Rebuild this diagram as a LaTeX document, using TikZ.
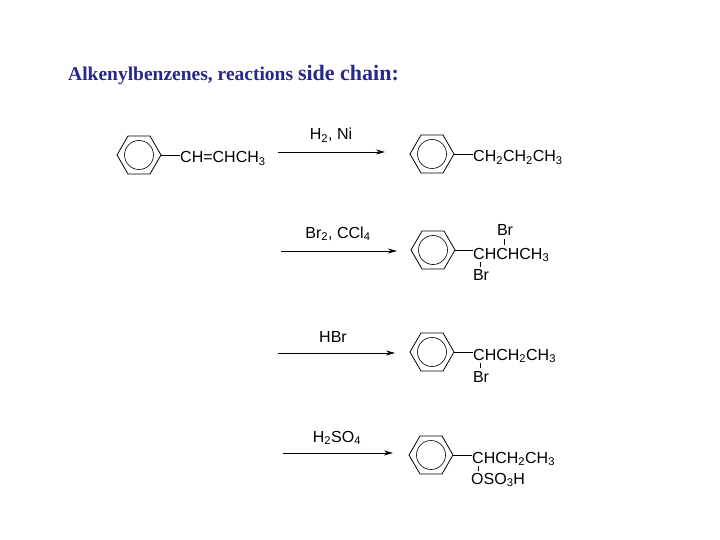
\documentclass[tikz,border=0pt]{standalone}
\usepackage{fontspec}
\setmainfont{Liberation Sans}
\newfontfamily\titlefont{Liberation Serif}
\usetikzlibrary{arrows.meta}
\definecolor{navy}{RGB}{40,40,140}
\begin{document}
\begin{tikzpicture}[x=1pt,y=-1pt,
  chem/.style={font=\fontsize{16}{17}\selectfont,inner sep=0pt,anchor=base west},
  lbl/.style={font=\fontsize{16}{17}\selectfont,inner sep=0pt,anchor=base},
  rxn/.style={-{Stealth[length=9pt,width=5pt]},line width=0.8pt},
  bond/.style={line width=0.7pt}]
\useasboundingbox (0,0) rectangle (720,540);
\node[anchor=base west,inner sep=0pt,text=navy,font=\titlefont\bfseries\fontsize{19.5}{21}\selectfont] (title) at (68,81) {Alkenylbenzenes, reactions {\fontsize{22}{23}\selectfont side chain:}};
\newcommand{\benz}[3]{%
  \draw[line width=0.8pt] (#1+22,#2) -- (#1+11,#2-19) -- (#1-11,#2-19) -- (#1-22,#2) -- (#1-11,#2+19) -- (#1+11,#2+19) -- cycle;
  \draw[line width=0.6pt] (#1,#2) circle (14.5);
  \coordinate (#3) at (#1+22,#2);}
% row 1
\benz{139}{155}{r1}
\node[chem] (t1) at (180,163) {CH=CHCH\textsubscript{3}};
\draw[bond] (r1) -- (t1.west |- r1);
\coordinate (a1s) at (278,152); \coordinate (a1e) at (385,152);
\draw[rxn] (a1s) -- (a1e);
\node[lbl] (l1) at (331,140) {H\textsubscript{2}, Ni};
\benz{432}{154}{p1}
\node[chem] (t2) at (473,162) {CH\textsubscript{2}CH\textsubscript{2}CH\textsubscript{3}};
\draw[bond] (p1) -- (t2.west |- p1);
% row 2
\coordinate (a2s) at (281,251); \coordinate (a2e) at (397,251);
\draw[rxn] (a2s) -- (a2e);
\node[lbl] (l2) at (338,238) {Br\textsubscript{2}, CCl\textsubscript{4}};
\benz{433}{250}{p2}
\node[chem] (t3) at (473,259) {CHCHCH\textsubscript{3}};
\draw[bond] (p2) -- (t3.west |- p2);
\node[lbl] (b2a) at (505,236) {Br};
\node[lbl] (b2b) at (481,280) {Br};
\draw[line width=0.5pt] (504,239) -- (504,245);
\draw[line width=0.5pt] (480,262) -- (480,267);
% row 3
\coordinate (a3s) at (278,353); \coordinate (a3e) at (395,353);
\draw[rxn] (a3s) -- (a3e);
\node[lbl] (l3) at (333,342) {HBr};
\benz{432}{352}{p3}
\node[chem] (t4) at (473,360) {CHCH\textsubscript{2}CH\textsubscript{3}};
\draw[bond] (p3) -- (t4.west |- p3);
\node[lbl] (b3) at (481,382) {Br};
\draw[line width=0.5pt] (480,363) -- (480,368);
% row 4
\coordinate (a4s) at (283,453); \coordinate (a4e) at (393,453);
\draw[rxn] (a4s) -- (a4e);
\node[lbl] (l4) at (337,442) {H\textsubscript{2}SO\textsubscript{4}};
\benz{431}{455}{p4}
\node[chem] (t5) at (472,463) {CHCH\textsubscript{2}CH\textsubscript{3}};
\draw[bond] (p4) -- (t5.west |- p4);
\node[chem] (o4) at (471,484) {OSO\textsubscript{3}H};
\draw[line width=0.5pt] (478,466) -- (478,471);
\end{tikzpicture}
\end{document}
